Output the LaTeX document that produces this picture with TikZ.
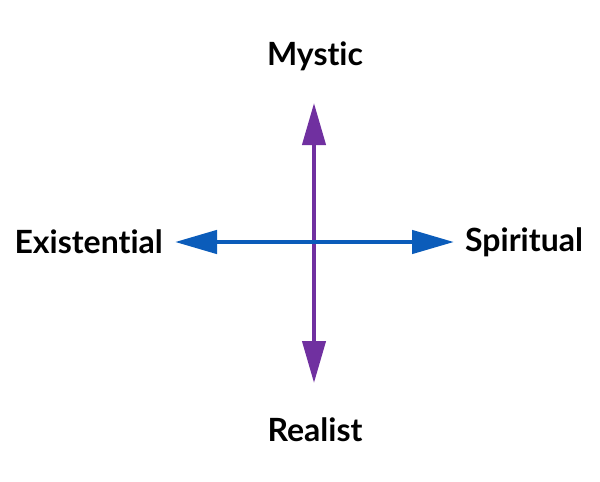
\documentclass[tikz,border=0pt]{standalone}
\usepackage{fontspec}
\setmainfont{Lato}[Ligatures={NoCommon,NoRequired,NoContextual}]
\usetikzlibrary{arrows.meta}
\definecolor{axpurple}{HTML}{7030A0}
\definecolor{axblue}{HTML}{0B5CBA}
\begin{document}
\begin{tikzpicture}[x=1pt,y=-1pt,
  lbl/.style={font=\fontsize{32}{38}\selectfont\bfseries, text=black, inner sep=0pt},
  vax/.style={draw=axpurple, line width=4.2pt, {Triangle[length=42pt,width=23pt]}-{Triangle[length=42pt,width=23pt]}},
  hax/.style={draw=axblue, line width=4.6pt, {Triangle[length=42pt,width=23pt]}-{Triangle[length=42pt,width=23pt]}}]
\useasboundingbox (0,0) rectangle (600,482);
\coordinate (ttop) at (314,103);
\coordinate (tbot) at (314,383);
\coordinate (tleft) at (175,242);
\coordinate (tright) at (454,242);
\node[lbl] (mystic) at (315,56) {Mystic};
\node[lbl] (realist) at (315,430) {Realist};
\node[lbl, anchor=east] (exist) at (163,242) {Existential};
\node[lbl, anchor=west] (spirit) at (465,242) {Spiritual};
\draw[vax] (tbot) -- (ttop);
\draw[hax] (tleft) -- (tright);
\end{tikzpicture}
\end{document}
